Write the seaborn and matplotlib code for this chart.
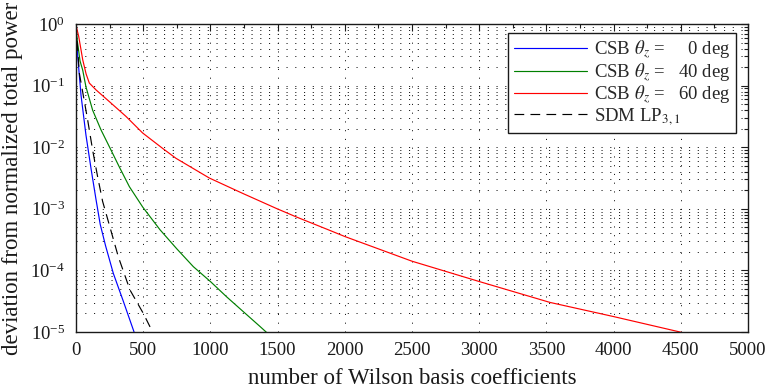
import numpy as np
import pandas as pd
import matplotlib
matplotlib.use("Agg")
import matplotlib.pyplot as plt
import matplotlib.ticker as mticker
import seaborn as sns

# ---- data ----
x_csb0 = [0, 12, 37, 74, 112, 149, 180, 220, 278, 352, 432]
y_csb0 = [0.89, 0.316, 0.0708, 0.0158, 4.47e-3, 1.41e-3, 5.62e-4, 2.51e-4, 8.9e-5, 3.16e-5, 1.0e-5]

x_csb40 = [0, 10, 30, 50, 74, 124, 186, 248, 322, 397, 496, 625, 750, 873, 1000, 1121, 1250, 1369, 1440]
y_csb40 = [0.89, 0.525, 0.251, 0.178, 0.0955, 0.0398, 0.0191, 0.0102, 4.79e-3, 2.29e-3, 1.07e-3,
           4.57e-4, 2.24e-4, 1.15e-4, 6.6e-5, 3.72e-5, 2.09e-5, 1.23e-5, 8.9e-6]

x_csb60 = [0, 20, 50, 75, 99, 149, 248, 372, 496, 645, 744, 992, 1240, 1488, 1637, 1865, 2000,
           2500, 3000, 3527, 4000, 4494, 4550]
y_csb60 = [0.955, 0.631, 0.263, 0.155, 0.110, 0.0851, 0.055, 0.0316, 0.017, 9.55e-3, 6.6e-3, 3.16e-3,
           1.78e-3, 1.02e-3, 7.41e-4, 4.68e-4, 3.55e-4, 1.41e-4, 6.6e-5, 3.02e-5, 1.78e-5, 1.0e-5, 9.3e-6]

x_sdm = [0, 25, 87, 124, 161, 198, 253, 315, 402, 501, 570]
y_sdm = [0.955, 0.158, 0.0275, 8.9e-3, 3.31e-3, 1.32e-3, 5.0e-4, 1.66e-4, 4.79e-5, 2.0e-5, 1.0e-5]

labels = [r"CSB $\theta_z$ =     0 deg",
          r"CSB $\theta_z$ =   40 deg",
          r"CSB $\theta_z$ =   60 deg",
          r"SDM LP$_{3,1}$"]
x_ticks = [0, 500, 1000, 1500, 2000, 2500, 3000, 3500, 4000, 4500, 5000]
x_label = "number of Wilson basis coefficients"
y_label = "deviation from normalized total power"

# ---- style ----
sns.set_theme(style="white")
plt.rcParams["font.family"] = ["Liberation Serif", "DejaVu Serif"]
plt.rcParams["mathtext.fontset"] = "stix"
plt.rcParams["lines.scale_dashes"] = False
plt.rcParams["xtick.direction"] = "in"
plt.rcParams["ytick.direction"] = "in"

fig = plt.figure(figsize=(7.67, 3.90), dpi=100)
ax = fig.add_axes([76 / 767, 1 - 332 / 390, (748 - 76) / 767, (332 - 24) / 390])

series = [
    (x_csb0, y_csb0, labels[0], (0, 0, 1)),
    (x_csb40, y_csb40, labels[1], (0, 0.5, 0)),
    (x_csb60, y_csb60, labels[2], (1, 0, 0)),
    (x_sdm, y_sdm, labels[3], (0, 0, 0)),
]
for xs, ys, lab, col in series:
    df = pd.DataFrame({"x": xs, "y": ys})
    sns.lineplot(data=df, x="x", y="y", ax=ax, color=col, linewidth=0.85,
                 label=lab, sort=False, estimator=None)
for ln in ax.get_lines():
    if ln.get_label() == labels[3]:
        ln.set_dashes((7, 4.5))

ax.set_yscale("log")
ax.set_xlim(0, 5000)
ax.set_ylim(1e-5, 1)
ax.set_xticks(x_ticks)
ax.xaxis.set_minor_locator(mticker.MultipleLocator(250))
ax.yaxis.set_major_locator(mticker.LogLocator(base=10, numticks=10))
ax.yaxis.set_minor_locator(mticker.LogLocator(base=10, subs=np.arange(2, 10), numticks=20))
ax.yaxis.set_major_formatter(mticker.LogFormatterMathtext())
ax.yaxis.set_minor_formatter(mticker.NullFormatter())

ax.tick_params(which="both", direction="in", top=True, right=True, colors="k",
               labelsize=13.5, width=0.8)
ax.tick_params(which="major", length=5)
ax.tick_params(which="minor", length=3)
ax.tick_params(axis="x", pad=7)
ax.tick_params(axis="y", pad=8)

gls = (0, (0.8, 5.5))
ax.grid(True, which="both", axis="y", linestyle=gls, color="k", linewidth=0.7)
ax.grid(True, which="major", axis="x", linestyle=gls, color="k", linewidth=0.7)
ax.set_axisbelow(True)

for sp in ax.spines.values():
    sp.set_color("k")
    sp.set_linewidth(1.0)
    sp.set_visible(True)

ax.set_xlabel(x_label, fontsize=16.5, color="k", labelpad=7)
ax.set_ylabel(y_label, fontsize=16.5, color="k", labelpad=5)

leg = ax.legend(loc="upper right", bbox_to_anchor=(0.982, 0.971), fontsize=13.5,
                frameon=True, fancybox=False, framealpha=1, edgecolor="k",
                handlelength=3.9, handletextpad=0.35, borderpad=0.3, labelspacing=0.0,
                borderaxespad=0)
leg.get_frame().set_linewidth(1.0)

fig.savefig("out.png", dpi=100)
